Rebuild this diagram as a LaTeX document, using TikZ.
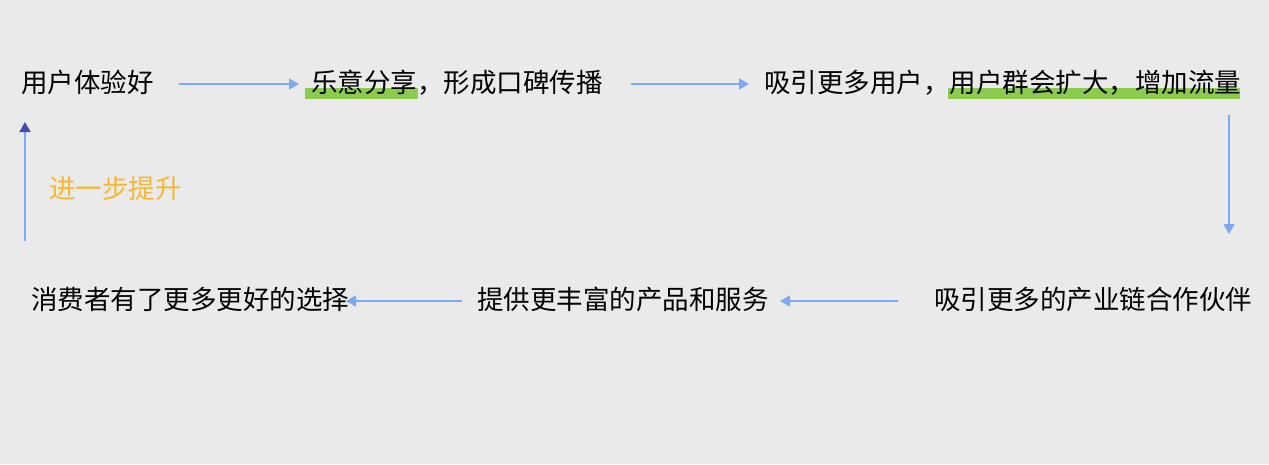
\documentclass[tikz,border=0pt]{standalone}
\usepackage{fontspec}
\setmainfont{Noto Sans CJK SC}
\usetikzlibrary{arrows.meta}
\definecolor{bgc}{HTML}{EAEAEA}
\definecolor{arrc}{HTML}{7DA8F2}
\definecolor{headc}{HTML}{4848B8}
\definecolor{hlc}{HTML}{8DCB4E}
\definecolor{orc}{HTML}{F5B82E}
\tikzset{
  lbl/.style={anchor=west, inner sep=0pt, font=\fontsize{26.5}{30}\selectfont, text height=0.88em, text depth=0.12em},
  arr/.style={draw=arrc, line width=1.6pt, -{Triangle[length=10pt,width=11pt,color=arrc]}},
  hl/.style={fill=hlc},
}
\begin{document}
\begin{tikzpicture}[x=1pt,y=-1pt]
\fill[bgc] (0,0) rectangle (1269,464);
\useasboundingbox (0,0) rectangle (1269,464);
% highlights
\fill[hl] (305,88) rectangle (418,99);
\fill[hl] (948,88) rectangle (1240,99);
% nodes
\node[lbl] (n1) at (21,89) {用户体验好};
\node[lbl] (n2) at (311,89) {乐意分享，形成口碑传播};
\node[lbl] (n3) at (764,89) {吸引更多用户，用户群会扩大，增加流量};
\node[lbl] (n4) at (934,306) {吸引更多的产业链合作伙伴};
\node[lbl] (n5) at (477,306) {提供更丰富的产品和服务};
\node[lbl] (n6) at (31,306) {消费者有了更多更好的选择};
\node[lbl, text=orc] (n7) at (49,195) {进一步提升};
% connector ends
\coordinate (c1a) at (179,84);
\coordinate (c1b) at (299,84);
\coordinate (c2a) at (631,84);
\coordinate (c2b) at (749,84);
\coordinate (c3a) at (1229,115);
\coordinate (c3b) at (1229,234);
\coordinate (c4a) at (898,301);
\coordinate (c4b) at (780,301);
\coordinate (c5a) at (462,301);
\coordinate (c5b) at (346,301);
\coordinate (c6a) at (25,241);
\coordinate (c6b) at (25,122);
% connectors
\draw[arr] (c1a) -- (c1b);
\draw[arr] (c2a) -- (c2b);
\draw[arr] (c3a) -- (c3b);
\draw[arr] (c4a) -- (c4b);
\draw[arr] (c5a) -- (c5b);
\draw[draw=arrc, line width=1.6pt, -{Triangle[length=10pt,width=11pt,color=headc]}] (c6a) -- (c6b);
\end{tikzpicture}
\end{document}
